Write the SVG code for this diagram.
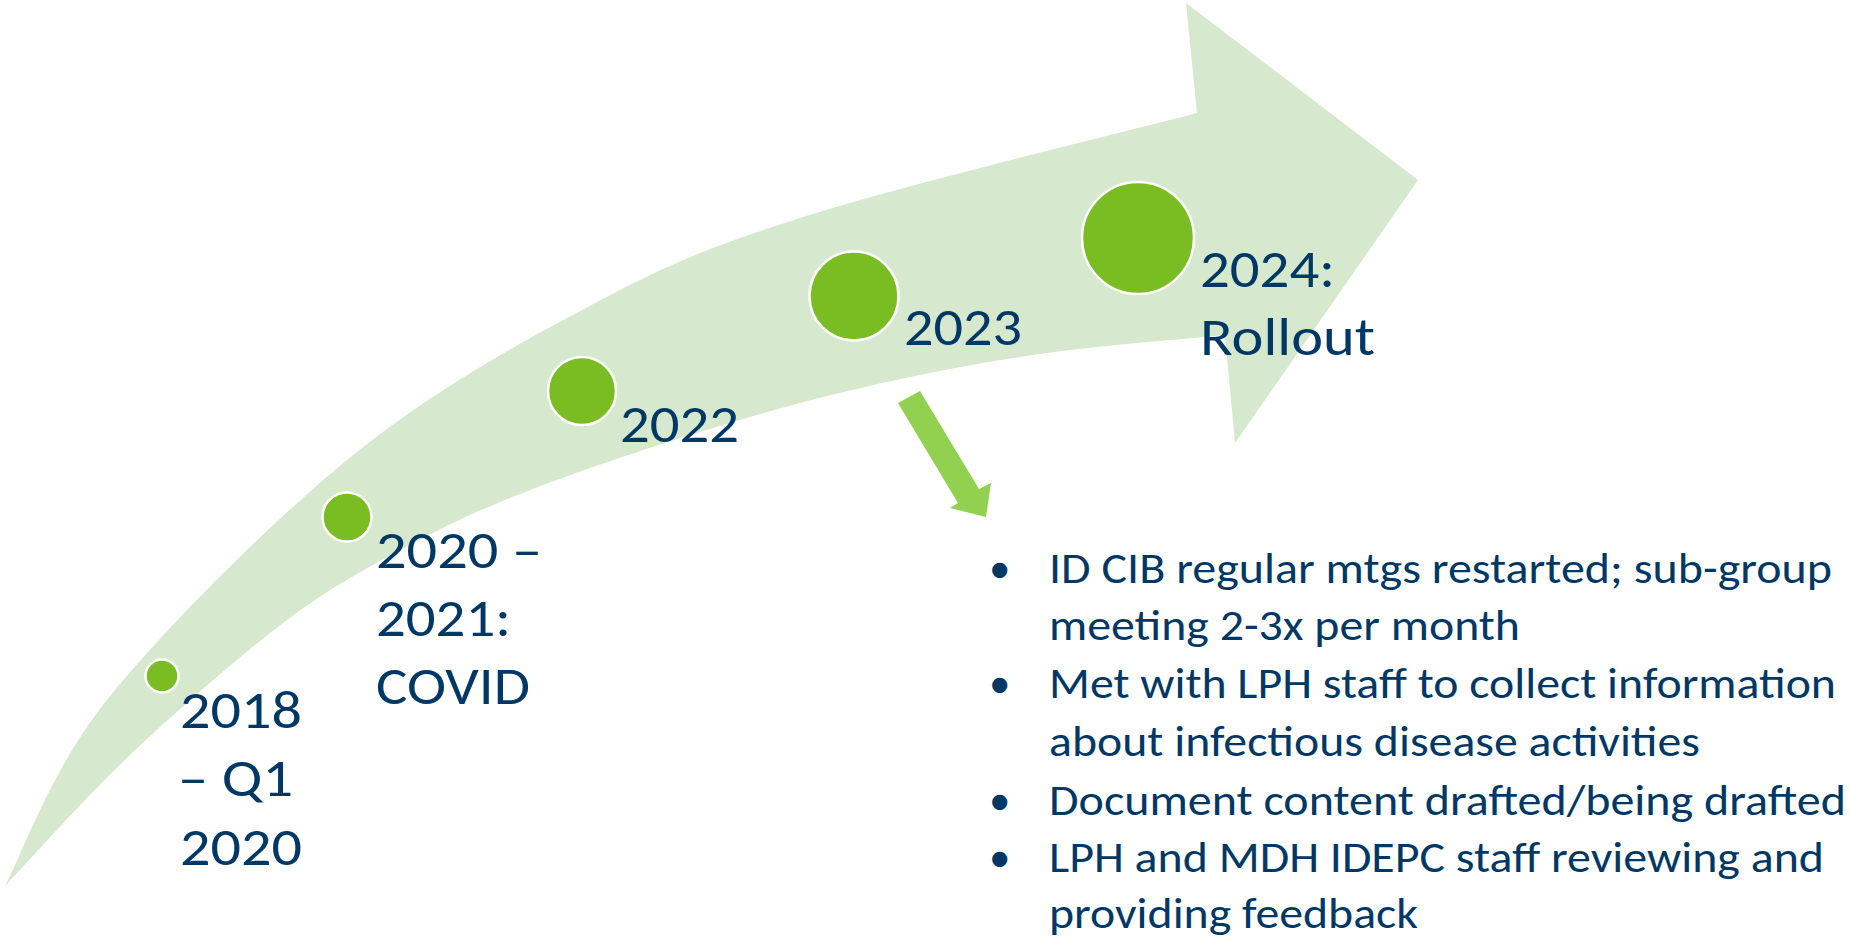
<svg xmlns="http://www.w3.org/2000/svg" width="1850" height="943" viewBox="0 0 1850 943">
  <style>
    .band { fill: #D6E8CD; }
    .dot { fill: #7ABD22; stroke: #FFFFFF; stroke-width: 2.5; }
    .label { font-family: Calibri, Carlito, "Liberation Sans", Arial, sans-serif; font-size: 54px; fill: #003865; }
    .item { font-family: Calibri, Carlito, "Liberation Sans", Arial, sans-serif; font-size: 43px; fill: #003865; }
    .pointer { fill: #92D050; }
  </style>

  <!-- curved timeline arrow -->
  <g id="timeline-arrow">
    <path class="band" d="M 5,886
      C 22,855 50,771 107,700
      C 164,629 267.8,525 347,460
      C 426.2,395 506.5,350.3 582,310
      C 657.5,269.7 697.5,250.8 800,218
      C 902.5,185.2 1130.8,130.5 1197,113
      L 1186,3 L 1418,180 L 1235,443 L 1225,335
      C 1195.3,338 1104.2,345 1047,353
      C 989.8,361 937.2,370.7 882,383
      C 826.8,395.3 774.7,409.2 716,427
      C 657.3,444.8 581,470.3 530,490
      C 479,509.7 450.5,523.3 410,545
      C 369.5,566.7 333.2,585.5 287,620
      C 240.8,654.5 180,707.7 133,752
      C 86,796.3 26.3,863.7 5,886 Z"/>
  </g>

  <!-- milestones -->
  <g id="milestone-2018">
    <circle class="dot" cx="162" cy="676" r="16.5"/>
    <text class="label" x="180" y="728" textLength="122" lengthAdjust="spacingAndGlyphs">2018</text>
    <text class="label" x="178" y="796" textLength="115" lengthAdjust="spacingAndGlyphs">– Q1</text>
    <text class="label" x="180" y="865" textLength="122" lengthAdjust="spacingAndGlyphs">2020</text>
  </g>

  <g id="milestone-2020">
    <circle class="dot" cx="347" cy="517" r="24.5"/>
    <text class="label" x="376" y="568" textLength="166" lengthAdjust="spacingAndGlyphs">2020 –</text>
    <text class="label" x="376" y="636" textLength="135" lengthAdjust="spacingAndGlyphs">2021:</text>
    <text class="label" x="376" y="704" textLength="154" lengthAdjust="spacingAndGlyphs">COVID</text>
  </g>

  <g id="milestone-2022">
    <circle class="dot" cx="582" cy="391" r="34"/>
    <text class="label" x="620" y="442" textLength="119" lengthAdjust="spacingAndGlyphs">2022</text>
  </g>

  <g id="milestone-2023">
    <circle class="dot" cx="854" cy="296" r="44.5"/>
    <text class="label" x="904" y="345" textLength="118" lengthAdjust="spacingAndGlyphs">2023</text>
  </g>

  <g id="milestone-2024">
    <circle class="dot" cx="1138" cy="238" r="56"/>
    <text class="label" x="1200" y="287" textLength="135" lengthAdjust="spacingAndGlyphs">2024:</text>
    <text class="label" x="1200" y="355" textLength="175" lengthAdjust="spacingAndGlyphs">Rollout</text>
  </g>

  <!-- pointer from 2023 to the status list -->
  <g id="connectors">
    <polygon class="pointer" points="898,403 920,391 979,489 991,483 986,517 950,508 958,503"/>
  </g>

  <!-- 2023 status list -->
  <g id="status-2023">
    <text class="item" x="989" y="583">•</text>
    <text class="item" x="1049" y="583" textLength="783" lengthAdjust="spacingAndGlyphs">ID CIB regular mtgs restarted; sub-group</text>
    <text class="item" x="1049" y="640" textLength="471" lengthAdjust="spacingAndGlyphs">meeting 2-3x per month</text>
    <text class="item" x="989" y="698">•</text>
    <text class="item" x="1049" y="698" textLength="787" lengthAdjust="spacingAndGlyphs">Met with LPH staff to collect information</text>
    <text class="item" x="1049" y="756" textLength="651" lengthAdjust="spacingAndGlyphs">about infectious disease activities</text>
    <text class="item" x="989" y="815">•</text>
    <text class="item" x="1049" y="815" textLength="797" lengthAdjust="spacingAndGlyphs">Document content drafted/being drafted</text>
    <text class="item" x="989" y="872">•</text>
    <text class="item" x="1049" y="872" textLength="775" lengthAdjust="spacingAndGlyphs">LPH and MDH IDEPC staff reviewing and</text>
    <text class="item" x="1049" y="928" textLength="369" lengthAdjust="spacingAndGlyphs">providing feedback</text>
  </g>
</svg>
